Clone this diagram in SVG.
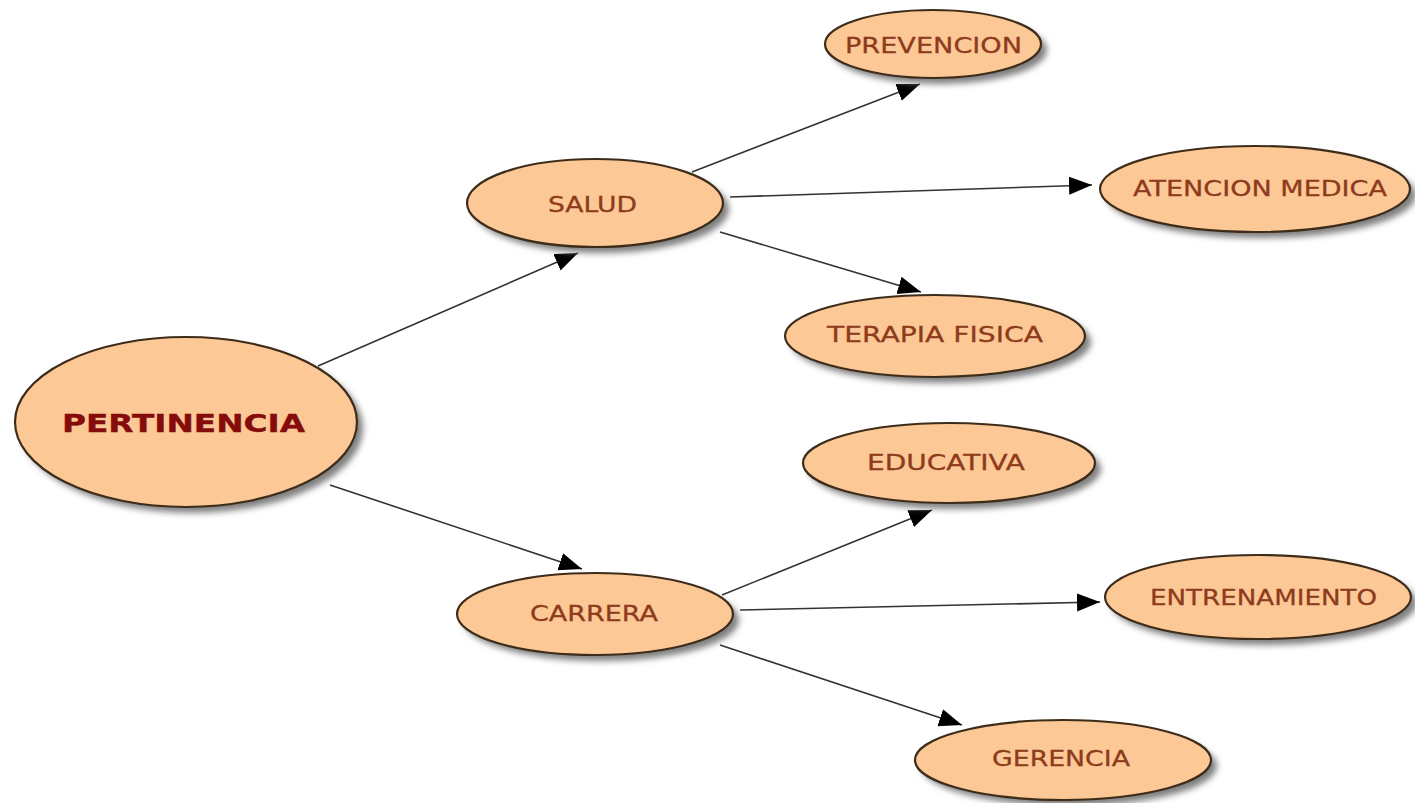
<svg xmlns="http://www.w3.org/2000/svg" width="1415" height="803" viewBox="0 0 1415 803">
<style>
.node ellipse.body{fill:#fcc896;stroke:#3e2c1a;stroke-width:2.2}
.node ellipse.shadow{fill:#808080;filter:url(#blur)}
.lbl{font-family:"DejaVu Sans","Liberation Sans",sans-serif;font-size:22px;fill:#8e3b1c;stroke:#8e3b1c;stroke-width:0.3}
.main{font-family:"DejaVu Sans","Liberation Sans",sans-serif;font-size:25px;font-weight:bold;fill:#860b0b;stroke:#860b0b;stroke-width:0.4}
.conn line{stroke:#333;stroke-width:1.6;marker-end:url(#arr)}
</style>
<defs>
<filter id="blur" x="-20%" y="-20%" width="140%" height="140%"><feGaussianBlur stdDeviation="3"/></filter>
<marker id="arr" markerUnits="userSpaceOnUse" markerWidth="26" markerHeight="20" refX="23" refY="9" orient="auto"><path d="M0,0 L23,9 L0,18 Z" fill="#000"/></marker>
</defs>
<rect width="1415" height="803" fill="#fff"/>
<g id="connectors" class="conn">
<line x1="318" y1="366" x2="578" y2="253"/>
<line x1="330" y1="485" x2="582" y2="569"/>
<line x1="692" y1="172" x2="920" y2="84"/>
<line x1="730" y1="197" x2="1092" y2="185"/>
<line x1="720" y1="232" x2="921" y2="292"/>
<line x1="722" y1="595" x2="932" y2="510"/>
<line x1="740" y1="610" x2="1100" y2="602"/>
<line x1="720" y1="645" x2="962" y2="725"/>
</g>
<g id="pertinencia" class="node"><ellipse class="shadow" cx="192" cy="428" rx="171" ry="85"/><ellipse class="body" cx="186" cy="422" rx="171" ry="85"/><text class="main" x="62" y="432" textLength="243" lengthAdjust="spacingAndGlyphs">PERTINENCIA</text></g>
<g id="salud" class="node"><ellipse class="shadow" cx="601" cy="209" rx="128" ry="44"/><ellipse class="body" cx="595" cy="203" rx="128" ry="44"/><text class="lbl" x="548" y="212" textLength="89" lengthAdjust="spacingAndGlyphs">SALUD</text></g>
<g id="prevencion" class="node"><ellipse class="shadow" cx="939" cy="50" rx="108" ry="34"/><ellipse class="body" cx="933" cy="44" rx="108" ry="34"/><text class="lbl" x="845" y="53" textLength="177" lengthAdjust="spacingAndGlyphs">PREVENCION</text></g>
<g id="atencion-medica" class="node"><ellipse class="shadow" cx="1261" cy="195" rx="155" ry="43"/><ellipse class="body" cx="1255" cy="189" rx="155" ry="43"/><text class="lbl" x="1133" y="196" textLength="254" lengthAdjust="spacingAndGlyphs">ATENCION MEDICA</text></g>
<g id="terapia-fisica" class="node"><ellipse class="shadow" cx="941" cy="342" rx="150" ry="41"/><ellipse class="body" cx="935" cy="336" rx="150" ry="41"/><text class="lbl" x="827" y="342" textLength="216" lengthAdjust="spacingAndGlyphs">TERAPIA FISICA</text></g>
<g id="educativa" class="node"><ellipse class="shadow" cx="955" cy="469" rx="146" ry="40"/><ellipse class="body" cx="949" cy="463" rx="146" ry="40"/><text class="lbl" x="867" y="470" textLength="158" lengthAdjust="spacingAndGlyphs">EDUCATIVA</text></g>
<g id="carrera" class="node"><ellipse class="shadow" cx="601" cy="620" rx="138" ry="41"/><ellipse class="body" cx="595" cy="614" rx="138" ry="41"/><text class="lbl" x="530" y="621" textLength="128" lengthAdjust="spacingAndGlyphs">CARRERA</text></g>
<g id="entrenamiento" class="node"><ellipse class="shadow" cx="1264" cy="603" rx="153" ry="42"/><ellipse class="body" cx="1258" cy="597" rx="153" ry="42"/><text class="lbl" x="1150" y="605" textLength="227" lengthAdjust="spacingAndGlyphs">ENTRENAMIENTO</text></g>
<g id="gerencia" class="node"><ellipse class="shadow" cx="1069" cy="766" rx="148" ry="40"/><ellipse class="body" cx="1063" cy="760" rx="148" ry="40"/><text class="lbl" x="992" y="766" textLength="138" lengthAdjust="spacingAndGlyphs">GERENCIA</text></g>
</svg>
